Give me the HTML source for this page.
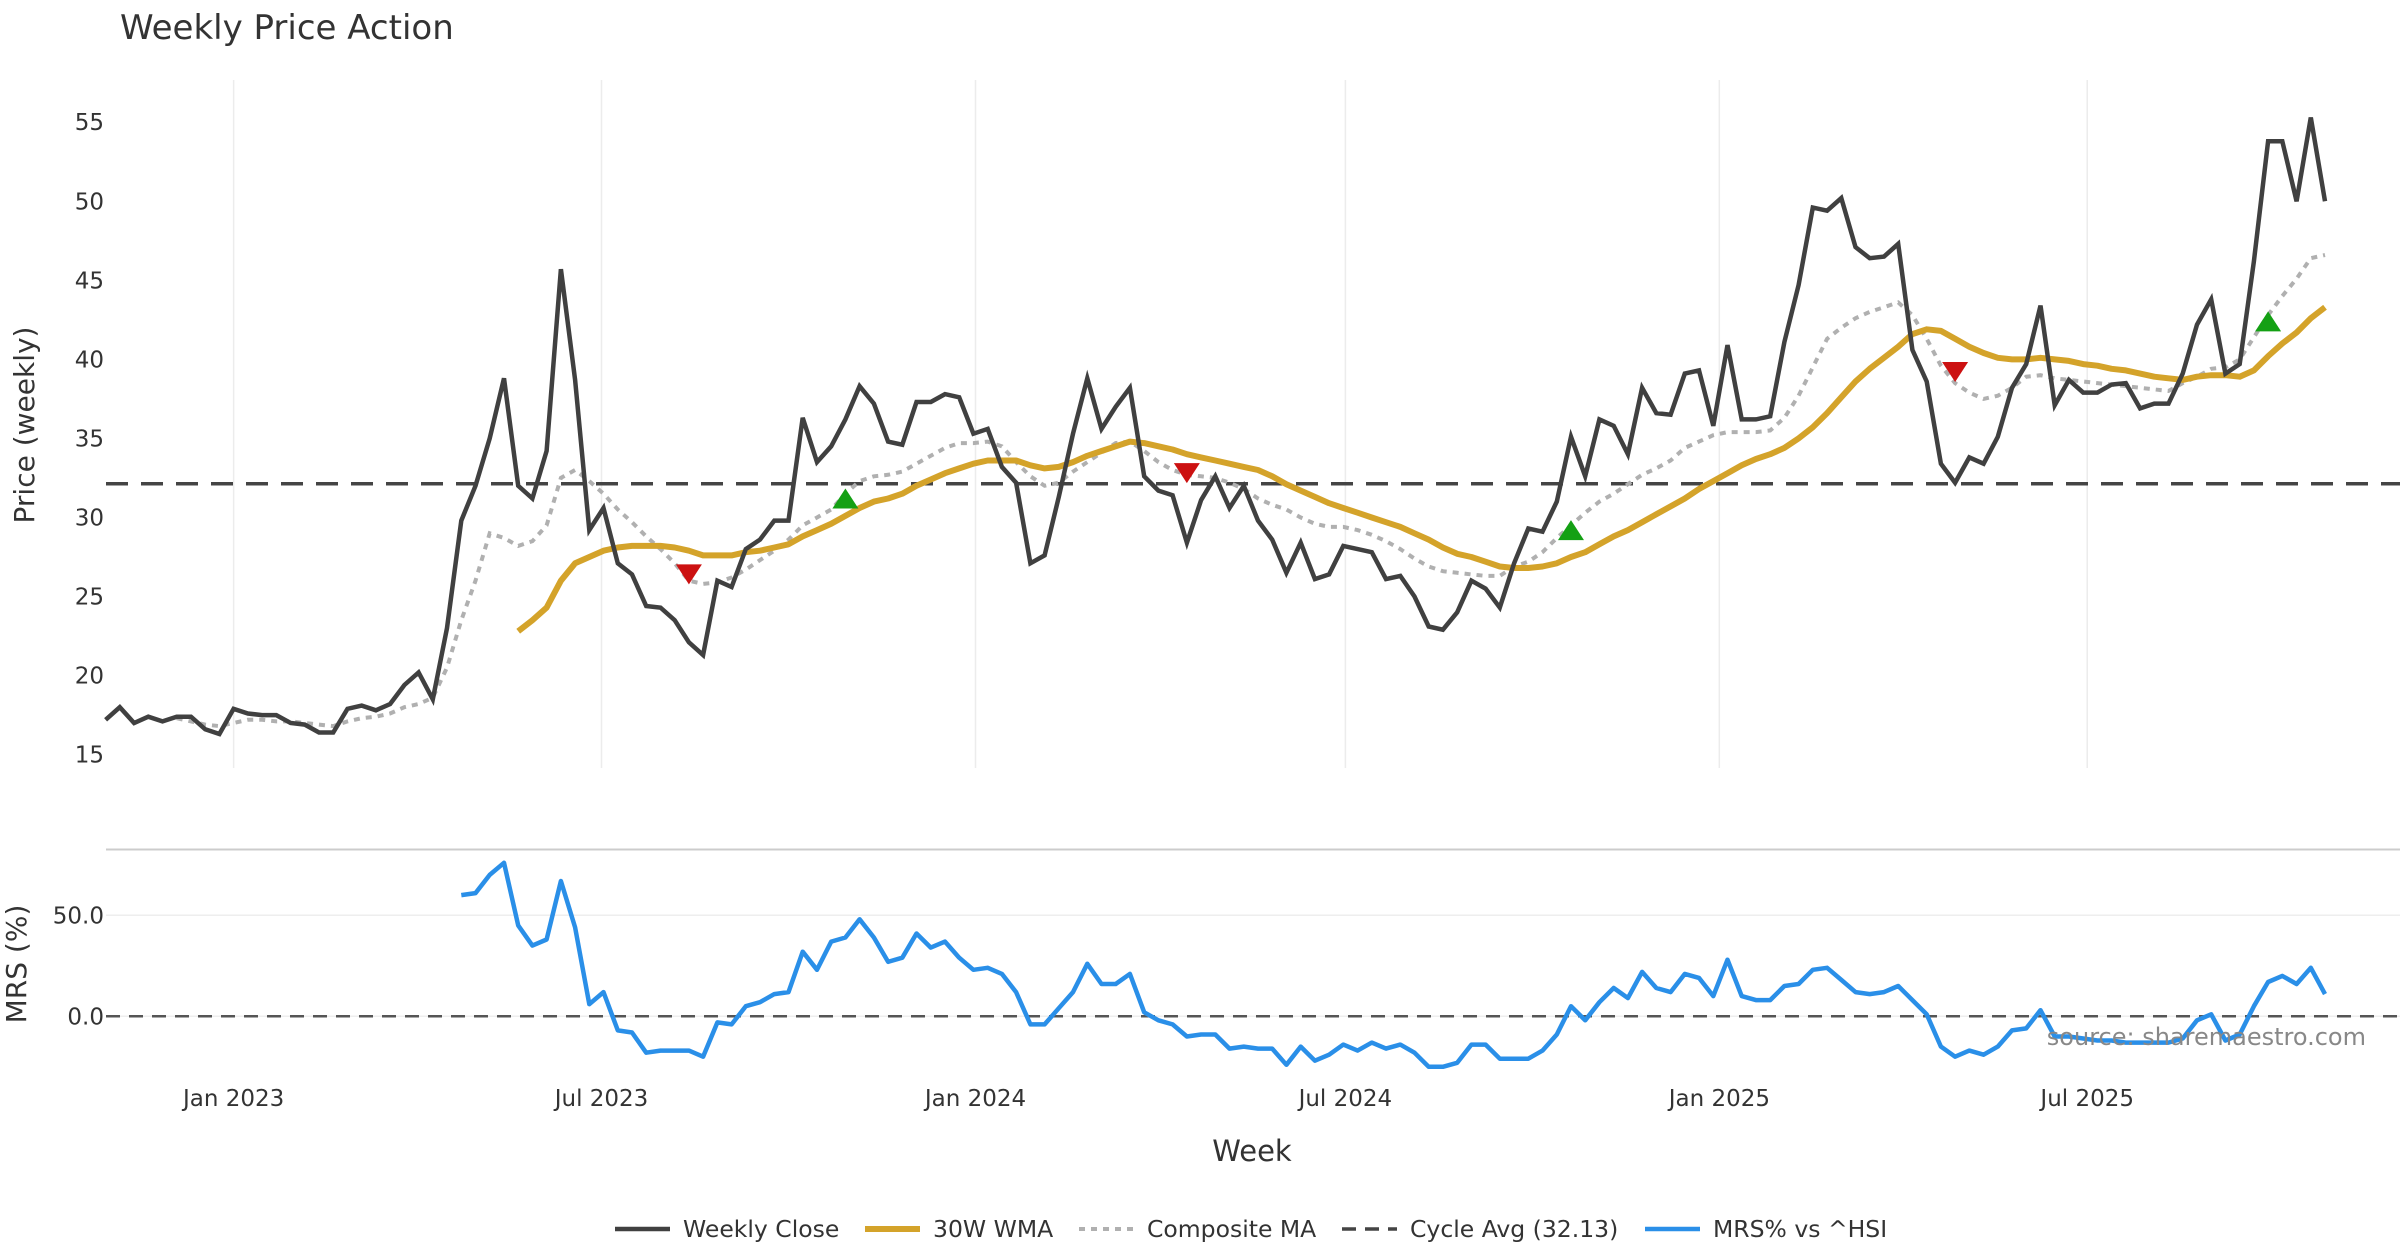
<!DOCTYPE html>
<html><head><meta charset="utf-8"><style>
html,body{margin:0;padding:0;background:#fff;}
svg{display:block;font-family:"DejaVu Sans","Liberation Sans",sans-serif;}
</style></head><body>
<svg id="chart" width="2400" height="1260" viewBox="0 0 2400 1260" xmlns="http://www.w3.org/2000/svg">
<rect width="2400" height="1260" fill="#fff"/>
<text x="120" y="39" font-size="34" fill="#333">Weekly Price Action</text>
<g id="grid"></g>
<g id="axes"></g>
<g id="series"></g>
<g id="markers"></g>
<text transform="translate(34,425) rotate(-90)" text-anchor="middle" font-size="28" fill="#333">Price (weekly)</text>
<text transform="translate(26,964) rotate(-90)" text-anchor="middle" font-size="28" fill="#333">MRS (%)</text>
<text x="1252" y="1161" text-anchor="middle" font-size="29" fill="#333">Week</text>
<text x="2366" y="1045" text-anchor="end" font-size="24" fill="#888">source: sharemaestro.com</text>
<g id="legend"></g>
</svg>
<script>
const startDate = "2022-10-30";
const closes = [17.2,18.0,17.0,17.4,17.1,17.4,17.4,16.6,16.3,17.9,17.6,17.5,17.5,17.0,16.9,16.4,16.4,17.9,18.1,17.8,18.2,19.4,20.2,18.5,23.0,29.8,32.0,35.0,38.8,32.0,31.2,34.2,45.7,38.7,29.2,30.6,27.1,26.4,24.4,24.3,23.5,22.1,21.3,26.0,25.6,28.0,28.6,29.8,29.8,36.3,33.5,34.5,36.2,38.3,37.2,34.8,34.6,37.3,37.3,37.8,37.6,35.3,35.6,33.2,32.2,27.1,27.6,31.3,35.3,38.8,35.6,37.0,38.2,32.6,31.7,31.4,28.4,31.1,32.6,30.6,32.0,29.8,28.6,26.5,28.4,26.1,26.4,28.2,28.0,27.8,26.1,26.3,25.0,23.1,22.9,24.0,26.0,25.5,24.3,27.1,29.3,29.1,31.0,35.1,32.6,36.2,35.8,34.0,38.2,36.6,36.5,39.1,39.3,35.8,40.9,36.2,36.2,36.4,41.1,44.7,49.6,49.4,50.2,47.1,46.4,46.5,47.3,40.6,38.6,33.4,32.2,33.8,33.4,35.1,38.2,39.7,43.4,37.1,38.7,37.9,37.9,38.4,38.5,36.9,37.2,37.2,39.1,42.2,43.8,39.1,39.7,46.2,53.8,53.8,50.0,55.3,50.0];
const wmaStart = 29;
const wma = [22.8,23.5,24.3,26.0,27.1,27.5,27.9,28.1,28.2,28.2,28.2,28.1,27.9,27.6,27.6,27.6,27.8,27.9,28.1,28.3,28.8,29.2,29.6,30.1,30.6,31.0,31.2,31.5,32.0,32.4,32.8,33.1,33.4,33.6,33.6,33.6,33.3,33.1,33.2,33.5,33.9,34.2,34.5,34.8,34.7,34.5,34.3,34.0,33.8,33.6,33.4,33.2,33.0,32.6,32.1,31.7,31.3,30.9,30.6,30.3,30.0,29.7,29.4,29.0,28.6,28.1,27.7,27.5,27.2,26.9,26.8,26.8,26.9,27.1,27.5,27.8,28.3,28.8,29.2,29.7,30.2,30.7,31.2,31.8,32.3,32.8,33.3,33.7,34.0,34.4,35.0,35.7,36.6,37.6,38.6,39.4,40.1,40.8,41.6,41.9,41.8,41.3,40.8,40.4,40.1,40.0,40.0,40.1,40.0,39.9,39.7,39.6,39.4,39.3,39.1,38.9,38.8,38.7,38.9,39.0,39.0,38.9,39.3,40.2,41.0,41.7,42.6,43.3];
const compStart = 5;
const composite = [17.3,17.1,16.9,16.8,17.0,17.2,17.2,17.1,17.1,17.0,16.9,16.8,17.1,17.3,17.4,17.6,18.0,18.2,18.6,20.5,23.5,26.0,29.0,28.7,28.2,28.5,29.5,32.5,33.0,32.3,31.5,30.5,29.7,28.8,28.0,27.1,26.0,25.8,25.9,26.2,26.7,27.3,27.9,28.6,29.5,30.0,30.5,31.5,32.3,32.6,32.7,32.9,33.4,33.9,34.4,34.7,34.7,34.8,34.5,33.5,32.6,32.0,32.2,32.9,33.5,34.1,34.7,34.8,34.2,33.5,33.0,32.7,32.6,32.5,32.2,31.8,31.2,30.8,30.5,30.0,29.6,29.4,29.4,29.2,28.9,28.5,28.0,27.4,26.9,26.6,26.5,26.4,26.3,26.3,26.9,27.2,27.8,28.7,29.5,30.3,31.0,31.5,32.1,32.7,33.1,33.6,34.4,34.8,35.2,35.4,35.4,35.4,35.5,36.3,37.7,39.5,41.3,42.0,42.6,43.0,43.3,43.6,42.8,41.3,39.6,38.5,37.9,37.5,37.7,38.2,38.9,39.0,38.8,38.7,38.6,38.5,38.4,38.3,38.2,38.1,38.0,38.5,38.9,39.4,39.5,40.0,41.4,42.8,44.0,45.1,46.4,46.6];
const mrsStart = 25;
const mrs = [60,61,70,76,45,35,38,67,44,6,12,-7,-8,-18,-17,-17,-17,-20,-3,-4,5,7,11,12,32,23,37,39,48,39,27,29,41,34,37,29,23,24,21,12,-4,-4,4,12,26,16,16,21,2,-2,-4,-10,-9,-9,-16,-15,-16,-16,-24,-15,-22,-19,-14,-17,-13,-16,-14,-18,-25,-25,-23,-14,-14,-21,-21,-21,-17,-9,5,-2,7,14,9,22,14,12,21,19,10,28,10,8,8,15,16,23,24,18,12,11,12,15,8,1,-15,-20,-17,-19,-15,-7,-6,3,-10,-10,-11,-12,-12,-13,-13,-13,-13,-11,-2,1,-12,-9,5,17,20,16,24,11];
const cycleAvg = 32.13;
const signalIdx = [41,52,76,103,130,152];
const signalVal = [26.4,31.2,32.8,29.2,39.2,42.4];
const signalDir = ["down","up","down","up","down","up"];
const priceTicks = [15,20,25,30,35,40,45,50,55];
const mrsTicks = [0,50];
const dateTicks = ["2023-01-01","2023-07-01","2024-01-01","2024-07-01","2025-01-01","2025-07-01"];
const dateTickLabels = ["Jan 2023","Jul 2023","Jan 2024","Jul 2024","Jan 2025","Jul 2025"];

const NS="http://www.w3.org/2000/svg";
const X0=105.6, STEP=14.227;
function xIdx(i){return X0+i*STEP;}
function xDate(d){return X0+((new Date(d)-new Date(startDate))/86400000/7)*STEP;}
function yP(v){return 754.6-(v-15)*15.81;}
function yM(v){return 1016.3-v*2.02;}
function mk(tag,attrs,parent){const e=document.createElementNS(NS,tag);for(const k in attrs)e.setAttribute(k,attrs[k]);parent.appendChild(e);return e;}
const grid=document.getElementById('grid'),axes=document.getElementById('axes'),series=document.getElementById('series'),markers=document.getElementById('markers'),legend=document.getElementById('legend');

dateTicks.forEach((d,k)=>{
  const x=xDate(d);
  const g=mk('line',{x1:x,x2:x,y1:80,y2:768,stroke:'#ececec','stroke-width':1.5},grid);
  
  
  const t=mk('text',{x:x,y:1106,'text-anchor':'middle','font-size':23,fill:'#333'},axes);
  t.textContent=dateTickLabels[k];
  
  
});
priceTicks.forEach(v=>{
  const t=mk('text',{x:104,y:yP(v)+8,'text-anchor':'end','font-size':23,fill:'#333'},axes);
  t.textContent=v;
  
  
});
mrsTicks.forEach(v=>{
  const gl=mk('line',{x1:106,x2:2400,y1:yM(v),y2:yM(v),stroke:'#eeeeee','stroke-width':1.5},grid);
  
  
  const t=mk('text',{x:104,y:yM(v)+8,'text-anchor':'end','font-size':23,fill:'#333'},axes);
  t.textContent=v.toFixed(1);
  
  
});
const sep=mk('line',{x1:106,x2:2400,y1:849.5,y2:849.5,stroke:'#cccccc','stroke-width':2},grid);



function pts(arr,start,yf){return arr.map((v,i)=>xIdx(start+i).toFixed(1)+','+yf(v).toFixed(1)).join(' ');}
const ca=mk('line',{x1:106,x2:2400,y1:yP(cycleAvg),y2:yP(cycleAvg),stroke:'#444','stroke-width':3.5,'stroke-dasharray':'22 13'},series);


const cm=mk('polyline',{points:pts(composite,compStart,yP),fill:'none',stroke:'#b0b0b0','stroke-width':4,'stroke-dasharray':'6 6'},series);


const wl=mk('polyline',{points:pts(wma,wmaStart,yP),fill:'none',stroke:'#d4a32a','stroke-width':6,'stroke-linejoin':'round'},series);


const cl=mk('polyline',{points:pts(closes,0,yP),fill:'none',stroke:'#404040','stroke-width':4.5,'stroke-linejoin':'miter'},series);


const zl=mk('line',{x1:106,x2:2400,y1:yM(0),y2:yM(0),stroke:'#555','stroke-width':2.5,'stroke-dasharray':'14 9'},series);


const ml=mk('polyline',{points:pts(mrs,mrsStart,yM),fill:'none',stroke:'#2a8fe8','stroke-width':4.5,'stroke-linejoin':'round'},series);



signalIdx.forEach((i,k)=>{
  const x=xIdx(i),y=yP(signalVal[k]);
  let p;
  if(signalDir[k]==='up') p=`${x-13},${y+10} ${x+13},${y+10} ${x},${y-10}`;
  else p=`${x-13},${y-10} ${x+13},${y-10} ${x},${y+10}`;
  const m=mk('polygon',{points:p,fill:signalDir[k]==='up'?'#14a014':'#cc1111'},markers);
  
  
});

const legItems=[["Weekly Close","#404040",4.5,""],["30W WMA","#d4a32a",6,""],["Composite MA","#b0b0b0",4,"6 6"],["Cycle Avg (32.13)","#444",3.5,"14 9"],["MRS% vs ^HSI","#2a8fe8",4.5,""]];
const legX=[615,865,1079,1342,1645];
legItems.forEach((it,k)=>{
  const g=mk('g',{},legend);
  
  
  mk('line',{x1:legX[k],x2:legX[k]+55,y1:1229,y2:1229,stroke:it[1],'stroke-width':it[2],'stroke-dasharray':it[3]},g);
  const t=mk('text',{x:legX[k]+68,y:1237,'font-size':23.5,fill:'#333'},g);
  t.textContent=it[0];
});
</script>
</body></html>
